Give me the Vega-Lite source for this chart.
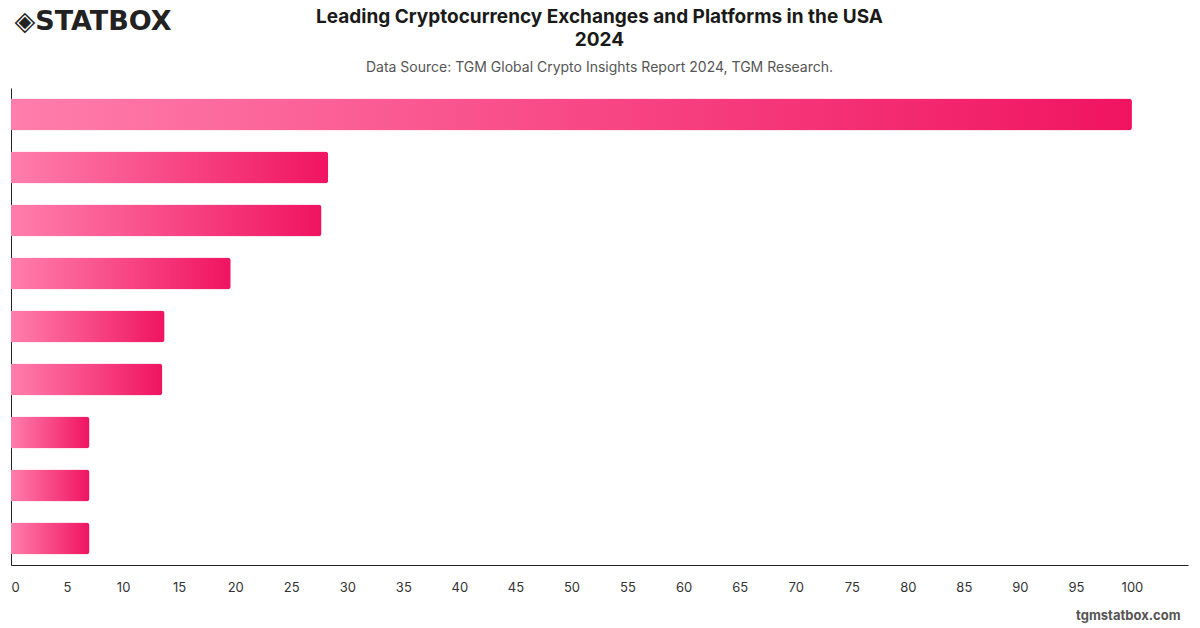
{
  "$schema": "https://vega.github.io/schema/vega-lite/v6.json",
  "width": 1177,
  "height": 477,
  "autosize": {"type": "none"},
  "padding": {"left": 11, "top": 88, "right": 12, "bottom": 63},
  "background": "#ffffff",
  "title": {
    "text": ["Leading Cryptocurrency Exchanges and Platforms in the USA", "2024"],
    "subtitle": "Data Source: TGM Global Crypto Insights Report 2024, TGM Research.",
    "anchor": "middle",
    "font": "Inter",
    "fontSize": 19,
    "fontWeight": "bold",
    "color": "#1a1a1a",
    "lineHeight": 23,
    "subtitleFont": "Inter",
    "subtitleFontSize": 14,
    "subtitleColor": "#555555",
    "subtitlePadding": 11,
    "offset": -68
  },
  "data": {
    "values": [
      {"rank": "1", "share": 100},
      {"rank": "2", "share": 28.3},
      {"rank": "3", "share": 27.7},
      {"rank": "4", "share": 19.6},
      {"rank": "5", "share": 13.7},
      {"rank": "6", "share": 13.5},
      {"rank": "7", "share": 7},
      {"rank": "8", "share": 7},
      {"rank": "9", "share": 7}
    ]
  },
  "mark": {
    "type": "bar",
    "cornerRadiusEnd": 3,
    "fill": {
      "gradient": "linear",
      "x1": 0, "y1": 0, "x2": 1, "y2": 0,
      "stops": [
        {"offset": 0, "color": "#ff7eab"},
        {"offset": 1, "color": "#f01460"}
      ]
    }
  },
  "encoding": {
    "y": {
      "field": "rank",
      "type": "nominal",
      "sort": null,
      "scale": {"paddingInner": 0.4, "paddingOuter": 0.2},
      "axis": {
        "title": "◈STATBOX",
        "titleAngle": 0,
        "titleX": 3,
        "titleY": -67,
        "titleAlign": "left",
        "titleBaseline": "middle",
        "titleFont": "DejaVu Sans",
        "titleFontSize": 27,
        "titleFontWeight": "bold",
        "titleColor": "#222222",
        "labels": false,
        "ticks": false,
        "grid": false,
        "domainColor": "#222222",
        "domainWidth": 1
      }
    },
    "x": {
      "field": "share",
      "type": "quantitative",
      "scale": {"domain": [0, 105], "nice": false},
      "axis": {
        "values": [0, 5, 10, 15, 20, 25, 30, 35, 40, 45, 50, 55, 60, 65, 70, 75, 80, 85, 90, 95, 100],
        "title": "tgmstatbox.com",
        "titleX": 1169,
        "titleY": 50,
        "titleAlign": "right",
        "titleBaseline": "middle",
        "titleFont": "Inter",
        "titleFontSize": 13,
        "titleFontWeight": "bold",
        "titleColor": "#555555",
        "labelFont": "Inter",
        "labelFontSize": 13,
        "labelColor": "#333333",
        "labelPadding": 16,
        "ticks": false,
        "grid": false,
        "domainColor": "#222222",
        "domainWidth": 1
      }
    }
  },
  "config": {"view": {"stroke": null}}
}
